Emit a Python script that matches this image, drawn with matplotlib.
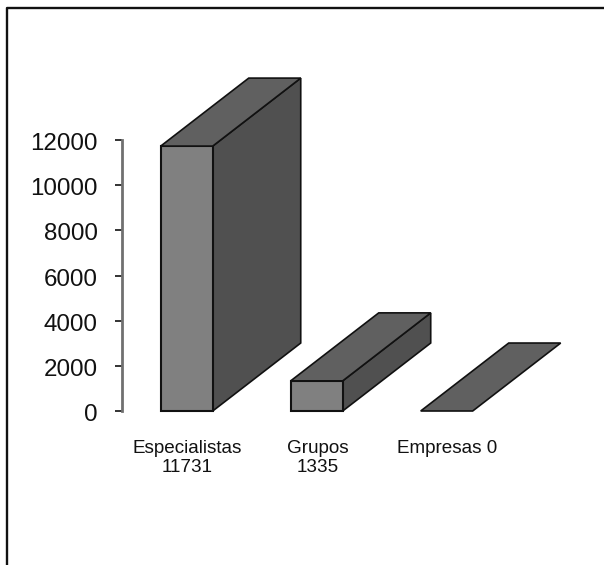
import matplotlib
matplotlib.use("Agg")
import matplotlib.pyplot as plt
from matplotlib.lines import Line2D
from matplotlib.transforms import ScaledTranslation

categories = ["Especialistas\n11731", "Grupos\n1335", "Empresas 0"]
values = [11731, 1335, 0]
yticks = [0, 2000, 4000, 6000, 8000, 10000, 12000]

W, H = 604, 565
plt.rcParams["font.family"] = ["Liberation Sans", "DejaVu Sans"]

fig = plt.figure(figsize=(W / 100, H / 100), dpi=100)
ax = fig.add_axes([122 / W, (H - 411) / H, 440 / W, 271 / H])
ax.set_xlim(-0.498, 2.887)
ax.set_ylim(0, 12000)
ax.patch.set_visible(False)

# fake 3d depth, in data units
bar_w = 0.4
dx = 0.677
dy = 3010
edge = "#111111"

for i, v in enumerate(values):
    x0, x1 = i - bar_w / 2, i + bar_w / 2
    # side
    if v > 0:
        ax.fill([x1, x1 + dx, x1 + dx, x1], [0, dy, v + dy, v],
                fc="#505050", ec=edge, lw=1.2, clip_on=False)
        ax.fill([x0, x1, x1, x0], [0, 0, v, v],
                fc="#808080", ec=edge, lw=1.5, clip_on=False)
    # top
    ax.fill([x0, x1, x1 + dx, x0 + dx], [v, v, v + dy, v + dy],
            fc="#606060", ec=edge, lw=1.2, clip_on=False)

for s in ["top", "right", "bottom"]:
    ax.spines[s].set_visible(False)
ax.spines["left"].set_linewidth(2.0)
ax.spines["left"].set_color("#707070")

ax.set_xticks([])
ax.set_yticks(yticks)
ax.tick_params(axis="y", length=5, width=1.2, color="#111111", labelsize=17.4, pad=12.5)
# labels sit a touch below their ticks in the original
shift = ScaledTranslation(0, -1.5 / 100, fig.dpi_scale_trans)
for t in ax.get_yticklabels():
    t.set_transform(t.get_transform() + shift)
    t.set_color("#111111")

for i, name in enumerate(categories):
    ax.annotate(name, (i, 0), xytext=(0.5, -21), textcoords="offset points",
                ha="center", va="top", fontsize=13.6, linespacing=1.15, color="#111111")

# outer frame, top and left only
fig.add_artist(Line2D([7 / W, 7 / W, 1], [0, 1 - 8 / H, 1 - 8 / H], color="#111111", lw=1.7))

fig.savefig("out.png", dpi=100, facecolor="white")
